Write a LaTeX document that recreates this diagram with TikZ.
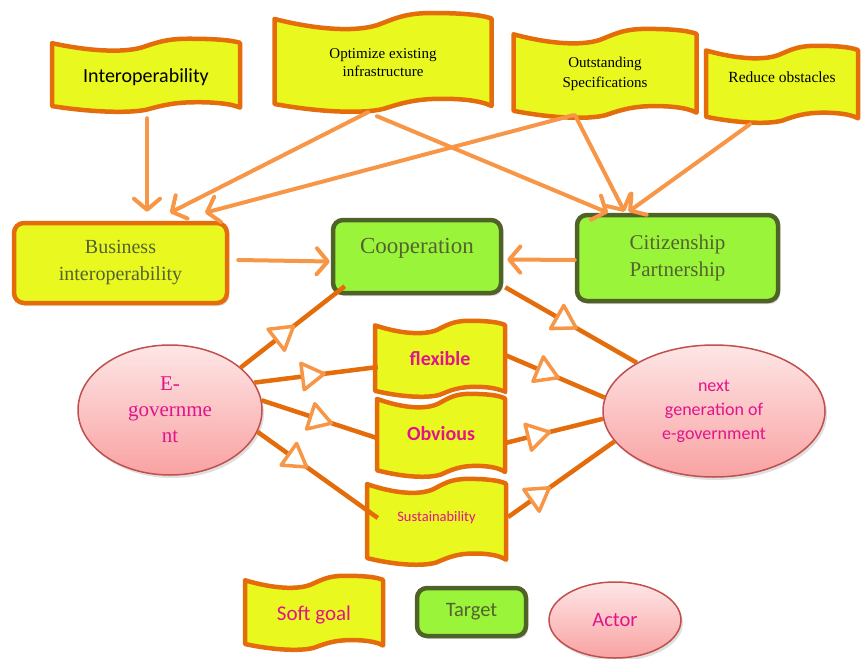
\documentclass[tikz,border=0pt]{standalone}
\usepackage{fontspec}
\setmainfont{Liberation Serif}
\newfontfamily\calib{Carlito}
\usetikzlibrary{arrows.meta,calc,decorations.markings,shapes.geometric,shadows}
\definecolor{flagfill}{RGB}{233,249,32}
\definecolor{flagline}{RGB}{228,108,10}
\definecolor{tgtfill}{RGB}{154,245,58}
\definecolor{tgtline}{RGB}{79,98,40}
\definecolor{tgttext}{RGB}{84,98,48}
\definecolor{arrlight}{RGB}{247,150,70}
\definecolor{arrdark}{RGB}{228,108,10}
\definecolor{magtext}{RGB}{225,20,140}
\definecolor{elltop}{RGB}{254,230,230}
\definecolor{ellbot}{RGB}{249,162,162}
\definecolor{ellline}{RGB}{192,80,77}
\newcommand{\flagshape}[4]{%
  \begin{scope}[shift={(#1,#2)},xscale=#3,yscale=#4]
    \path[flagpath] (-1,-0.86) .. controls (-0.6,-0.64) and (-0.25,-0.6) .. (-0.05,-0.74)
      .. controls (0.1,-0.86) and (0.2,-0.98) .. (0.45,-0.98)
      .. controls (0.7,-0.98) and (0.9,-0.95) .. (1,-0.87)
      -- (1,0.88)
      .. controls (0.9,0.77) and (0.7,0.72) .. (0.45,0.74)
      .. controls (0.25,0.76) and (0.12,0.86) .. (0.0,0.94)
      .. controls (-0.2,1.04) and (-0.6,1.0) .. (-1,0.84)
      -- cycle;
  \end{scope}}
\begin{document}
\begin{tikzpicture}[x=1pt,y=-1pt,
  flagpath/.style={draw=flagline, fill=flagfill, line width=4.5pt, line join=round,
    preaction={draw=white, line width=8pt}},
  flagnode/.style={rectangle, draw=none, inner sep=0pt, align=center},
  softrect/.style={rectangle, rounded corners=10pt, draw=flagline, fill=flagfill, line width=4.5pt,
    inner sep=0pt, align=center, text=tgttext,
    drop shadow={opacity=0.25, shadow xshift=2pt, shadow yshift=-3pt}},
  tgtrect/.style={rectangle, rounded corners=10pt, draw=tgtline, fill=tgtfill, line width=4.5pt,
    inner sep=0pt, align=center, text=tgttext,
    drop shadow={opacity=0.25, shadow xshift=2pt, shadow yshift=-3pt}},
  actor/.style={ellipse, draw=ellline, line width=1.5pt, top color=elltop, bottom color=ellbot,
    inner sep=0pt, align=center, text=magtext,
    drop shadow={opacity=0.25, shadow xshift=2pt, shadow yshift=-3pt}},
  lightarrow/.style={draw=arrlight, line width=4pt, line cap=round,
    -{Straight Barb[length=11pt,width=26pt,round]}},
  contrib/.style={draw=arrdark, line width=4.5pt,
    postaction={decorate, decoration={markings, mark=at position #1 with
      {\arrow{Triangle[length=27pt,width=32pt,line width=3.5pt,color=arrlight,fill=white,round]}}}}}
]
\useasboundingbox (0,0) rectangle (861,658);

% top soft goals
\flagshape{146}{75}{94}{37}
\node[flagnode, minimum width=188pt, minimum height=74pt, font=\calib\fontsize{20}{24}\selectfont] (interop) at (146,77) {Interoperability};
\flagshape{383}{62}{108.5}{50}
\node[flagnode, minimum width=217pt, minimum height=100pt, font=\fontsize{15}{18}\selectfont] (opt) at (383,63) {Optimize existing\\infrastructure};
\flagshape{605}{73}{91.5}{45}
\node[flagnode, minimum width=183pt, minimum height=90pt, font=\fontsize{15}{20}\selectfont] (outs) at (605,74) {Outstanding\\Specifications};
\flagshape{782}{84}{76}{39}
\node[flagnode, minimum width=152pt, minimum height=78pt,
  label={[font=\fontsize{15.5}{18}\selectfont, yshift=7pt]center:Reduce obstacles}] (red) at (782,84) {};

% targets
\node[softrect, minimum width=213pt, minimum height=80pt, font=\fontsize{20}{27}\selectfont] (bus) at (120.5,263) {Business\\interoperability};
\node[tgtrect, minimum width=168pt, minimum height=73pt,
  label={[text=tgttext, font=\fontsize{23}{26}\selectfont, yshift=8.5pt]center:Cooperation}] (coop) at (417,256.5) {};
\node[tgtrect, minimum width=201pt, minimum height=86pt, font=\fontsize{21}{27}\selectfont] (cit) at (677.5,258) {Citizenship\\Partnership};

% actors
\node[actor, minimum width=184pt, minimum height=130pt, font=\fontsize{21}{26}\selectfont] (egov) at (170,410) {E-\\governme\\nt};
\node[actor, minimum width=222pt, minimum height=132pt, font=\calib\fontsize{18}{24}\selectfont] (ngov) at (714,411) {next\\generation of\\e-government};

% middle soft goals
\flagshape{440}{358.5}{65}{38.5}
\node[flagnode, minimum width=130pt, minimum height=77pt, text=magtext, font=\calib\bfseries\fontsize{20}{24}\selectfont] (flex) at (440,359) {flexible};
\flagshape{441}{435}{64}{42}
\node[flagnode, minimum width=128pt, minimum height=84pt, text=magtext, font=\calib\bfseries\fontsize{20}{24}\selectfont] (obv) at (441,434) {Obvious};
\flagshape{436.5}{521.5}{69.5}{43.5}
\node[flagnode, minimum width=139pt, minimum height=87pt, text=magtext, font=\calib\fontsize{14.5}{18}\selectfont] (sus) at (436.5,518) {Sustainability};

% legend
\flagshape{314}{612.5}{69}{37.5}
\node[flagnode, minimum width=138pt, minimum height=75pt, text=magtext, font=\calib\fontsize{21}{24}\selectfont] (lsg) at (314,615) {Soft goal};
\node[tgtrect, minimum width=109pt, minimum height=48pt, font=\calib\fontsize{20.5}{24}\selectfont] (ltgt) at (471.5,612) {Target};
\node[actor, minimum width=132pt, minimum height=76pt, font=\calib\fontsize{20.5}{24}\selectfont] (lact) at (615,620) {Actor};

% light connectors
\draw[lightarrow] ($(interop.south)+(1,4)$) -- ($(bus.north)+(26.5,-9)$);
\draw[lightarrow] ($(opt.south)+(-15,-1)$) -- ($(bus.north)+(49.5,-8)$);
\draw[lightarrow] ($(opt.south)+(-6,3)$) -- ($(cit.north)+(-69.5,0)$);
\draw[lightarrow] ($(outs.south)+(-32,-4)$) -- ($(bus.north)+(84.5,-8)$);
\draw[lightarrow] ($(outs.south)+(-30,-4)$) -- ($(cit.north)+(-53,-1)$);
\draw[lightarrow] ($(red.south)+(-32,1)$) -- ($(cit.north)+(-49,-1)$);
\draw[lightarrow] ($(bus.east)+(9,-3)$) -- ($(coop.west)+(-1,5)$);
\draw[lightarrow] ($(cit.west)+(0,2)$) -- ($(coop.east)+(4,3)$);

% contribution links
\draw[contrib=0.52] (egov.31) -- ($(coop.south west)+(14,-9)$);
\draw[contrib=0.58] (egov.18) -- ($(flex.west)+(3,8)$);
\draw[contrib=0.62] (egov.6) -- ($(obv.west)+(0,4)$);
\draw[contrib=0.42] (egov.-14) -- ($(sus.west)+(11,0)$);
\draw[contrib=0.55] ($(coop.south east)+(2,-8)$) -- (ngov.148);
\draw[contrib=0.55] ($(flex.east)+(0,-4)$) -- (ngov.173);
\draw[contrib=0.47] ($(obv.east)+(0,9)$) -- (ngov.184);
\draw[contrib=0.4] ($(sus.east)+(2,-1)$) -- (ngov.197);
\end{tikzpicture}
\end{document}
